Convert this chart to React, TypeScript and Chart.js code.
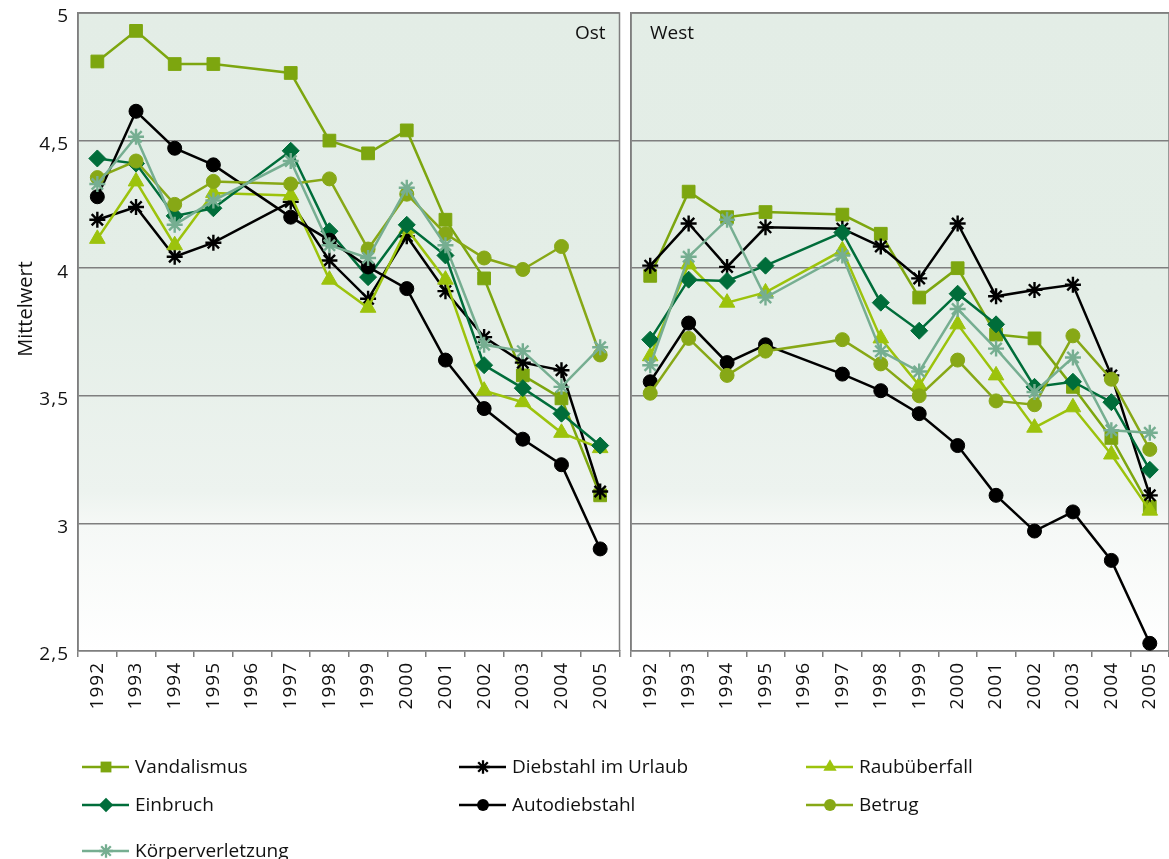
import React, { useEffect, useRef } from 'react';
import { Chart, registerables } from 'chart.js';

Chart.register(...registerables);

// ---------- data ----------
const years = ['1992', '1993', '1994', '1995', '1996', '1997', '1998', '1999', '2000', '2001', '2002', '2003', '2004', '2005'];
const yMin = 2.5;
const yMax = 5;
const yStep = 0.5;
const seriesNames = ['Vandalismus', 'Diebstahl im Urlaub', 'Raubüberfall', 'Einbruch', 'Autodiebstahl', 'Betrug', 'Körperverletzung'];
const panelNames = ['Ost', 'West'];
const yAxisTitle = 'Mittelwert';

// Ost
const ostVandalismus = [4.81, 4.93, 4.80, 4.80, null, 4.765, 4.50, 4.45, 4.54, 4.19, 3.96, 3.58, 3.49, 3.11];
const ostDiebstahl = [4.19, 4.24, 4.045, 4.10, null, 4.26, 4.03, 3.88, 4.125, 3.91, 3.73, 3.63, 3.60, 3.125];
const ostRaub = [4.115, 4.34, 4.09, 4.295, null, 4.285, 3.955, 3.845, 4.155, 3.955, 3.52, 3.475, 3.355, 3.295];
const ostEinbruch = [4.43, 4.41, 4.205, 4.235, null, 4.46, 4.145, 3.965, 4.17, 4.05, 3.62, 3.53, 3.43, 3.305];
const ostAuto = [4.28, 4.615, 4.47, 4.405, null, 4.20, 4.11, 4.005, 3.92, 3.64, 3.45, 3.33, 3.23, 2.90];
const ostBetrug = [4.355, 4.42, 4.25, 4.34, null, 4.33, 4.35, 4.075, 4.29, 4.135, 4.04, 3.995, 4.085, 3.66];
const ostKoerper = [4.33, 4.515, 4.17, 4.265, null, 4.42, 4.09, 4.04, 4.315, 4.09, 3.70, 3.675, 3.535, 3.69];

// West
const westVandalismus = [3.97, 4.30, 4.20, 4.22, null, 4.21, 4.135, 3.885, 4.00, 3.74, 3.725, 3.535, 3.335, 3.065];
const westDiebstahl = [4.01, 4.175, 4.005, 4.16, null, 4.155, 4.085, 3.96, 4.175, 3.89, 3.915, 3.935, 3.58, 3.11];
const westRaub = [3.655, 4.015, 3.865, 3.905, null, 4.07, 3.725, 3.54, 3.78, 3.58, 3.375, 3.455, 3.27, 3.05];
const westEinbruch = [3.72, 3.955, 3.95, 4.01, null, 4.14, 3.865, 3.755, 3.90, 3.78, 3.535, 3.555, 3.475, 3.21];
const westAuto = [3.555, 3.785, 3.63, 3.70, null, 3.585, 3.52, 3.43, 3.305, 3.11, 2.97, 3.045, 2.855, 2.53];
const westBetrug = [3.51, 3.725, 3.58, 3.675, null, 3.72, 3.625, 3.50, 3.64, 3.48, 3.465, 3.735, 3.565, 3.29];
const westKoerper = [3.62, 4.045, 4.19, 3.885, null, 4.05, 3.675, 3.595, 3.84, 3.685, 3.515, 3.65, 3.365, 3.355];

const ostSeries = [ostVandalismus, ostDiebstahl, ostRaub, ostEinbruch, ostAuto, ostBetrug, ostKoerper];
const westSeries = [westVandalismus, westDiebstahl, westRaub, westEinbruch, westAuto, westBetrug, westKoerper];

// ---------- styles ----------
const seriesColors = ['#7da60f', '#000000', '#9cc30c', '#006d3a', '#000000', '#87a816', '#76ae91'];
const pointStyles = ['rect', 'star', 'triangle', 'rectRot', 'circle', 'circle', 'star'];
const pointRadii = [9, 8, 9, 8.5, 7, 7, 8];
const FONT = "'Open Sans', 'DejaVu Sans', sans-serif";
const GRID = '#7f7f7f';

const W = 1169;
const H = 859;
const TOP = 13;
const BOTTOM = 651;
const OST_LEFT = 78;
const OST_RIGHT = 619.5;
const WEST_X = 630;
const PANEL_H = 730;

function drawMarker(ctx: CanvasRenderingContext2D, style: string, x: number, y: number, r: number, color: string) {
  ctx.save();
  ctx.fillStyle = color;
  ctx.strokeStyle = color;
  ctx.lineWidth = 2.3;
  ctx.beginPath();
  if (style === 'rect') {
    const s = Math.SQRT1_2 * r;
    ctx.rect(x - s, y - s, 2 * s, 2 * s);
    ctx.fill();
  } else if (style === 'circle') {
    ctx.arc(x, y, r, 0, Math.PI * 2);
    ctx.fill();
  } else if (style === 'rectRot') {
    ctx.moveTo(x, y - r);
    ctx.lineTo(x + r, y);
    ctx.lineTo(x, y + r);
    ctx.lineTo(x - r, y);
    ctx.closePath();
    ctx.fill();
  } else if (style === 'triangle') {
    for (let k = 0; k < 3; k++) {
      const a = (k * 2 * Math.PI) / 3;
      const px = x + Math.sin(a) * r;
      const py = y - Math.cos(a) * r;
      if (k === 0) ctx.moveTo(px, py);
      else ctx.lineTo(px, py);
    }
    ctx.closePath();
    ctx.fill();
  } else if (style === 'star') {
    for (let k = 0; k < 4; k++) {
      const a = (k * Math.PI) / 4;
      ctx.moveTo(x + Math.cos(a) * r, y + Math.sin(a) * r);
      ctx.lineTo(x - Math.cos(a) * r, y - Math.sin(a) * r);
    }
    ctx.stroke();
  }
  ctx.restore();
}

const spacingPlugin = {
  id: 'spacing',
  beforeDraw(chart: any) {
    (chart.ctx as any).letterSpacing = '1px';
  },
};

const backgroundPlugin = {
  id: 'panelBg',
  beforeDraw(chart: any) {
    const { ctx, chartArea } = chart;
    const { left, top, right, bottom } = chartArea;
    ctx.save();
    const g = ctx.createLinearGradient(0, top, 0, bottom);
    g.addColorStop(0, '#e3ede6');
    g.addColorStop(0.45, '#e4eee7');
    g.addColorStop(0.75, '#edf3ef');
    g.addColorStop(0.8, '#f5f8f6');
    g.addColorStop(1, '#ffffff');
    ctx.fillStyle = g;
    ctx.fillRect(left, top, right - left, bottom - top);
    ctx.restore();
  },
};

function framePlugin(panel: string) {
  return {
    id: 'frame' + panel,
    beforeDatasetsDraw(chart: any) {
      const { ctx, chartArea } = chart;
      const { left, top, right, bottom } = chartArea;
      ctx.save();
      ctx.strokeStyle = GRID;
      ctx.lineWidth = 1.5;
      ctx.beginPath();
      ctx.moveTo(left, bottom);
      ctx.lineTo(left, top);
      ctx.lineTo(right, top);
      ctx.lineTo(right, bottom);
      ctx.stroke();
      (ctx as any).letterSpacing = '0px';
      ctx.fillStyle = '#111111';
      ctx.font = `19px ${FONT}`;
      ctx.textBaseline = 'middle';
      if (panel === 'Ost') {
        ctx.textAlign = 'right';
        ctx.fillText(panel, right - 14, top + 21);
      } else {
        ctx.textAlign = 'left';
        ctx.fillText(panel, left + 19, top + 21);
      }
      ctx.restore();
    },
  };
}

const yTitlePlugin = {
  id: 'yTitle',
  afterDraw(chart: any) {
    const { ctx } = chart;
    ctx.save();
    (ctx as any).letterSpacing = '0px';
    ctx.translate(26, 309);
    ctx.rotate(-Math.PI / 2);
    ctx.font = `20px ${FONT}`;
    ctx.fillStyle = '#111111';
    ctx.textAlign = 'center';
    ctx.textBaseline = 'middle';
    ctx.fillText(yAxisTitle, 0, 0);
    ctx.restore();
  },
};

const legendPlugin = {
  id: 'customLegend',
  afterDraw(chart: any) {
    const { ctx } = chart;
    const colX = [82, 459, 806];
    const rowY = [767, 805, 851];
    ctx.save();
    (ctx as any).letterSpacing = '0px';
    ctx.font = `19px ${FONT}`;
    ctx.textAlign = 'left';
    ctx.textBaseline = 'middle';
    seriesNames.forEach((name, i) => {
      const x = colX[i % 3];
      const y = rowY[Math.floor(i / 3)];
      const color = seriesColors[i];
      ctx.strokeStyle = color;
      ctx.lineWidth = 2.5;
      ctx.beginPath();
      ctx.moveTo(x, y);
      ctx.lineTo(x + 47, y);
      ctx.stroke();
      drawMarker(ctx, pointStyles[i], x + 24, y, pointRadii[i] * 0.85, color);
      ctx.fillStyle = '#111111';
      ctx.fillText(name, x + 53, y + 1);
    });
    ctx.restore();
  },
};

function buildConfig(panel: string, values: (number | null)[][]): any {
  const isOst = panel === 'Ost';
  return {
    type: 'line',
    data: {
      labels: years,
      datasets: seriesNames.map((name, i) => ({
        label: name,
        data: values[i],
        borderColor: seriesColors[i],
        backgroundColor: seriesColors[i],
        pointBackgroundColor: seriesColors[i],
        pointBorderColor: seriesColors[i],
        pointStyle: pointStyles[i],
        pointRadius: pointRadii[i],
        pointBorderWidth: pointStyles[i] === 'star' ? 2.4 : 1,
        borderWidth: 2.5,
        spanGaps: true,
        tension: 0,
        fill: false,
        clip: false,
        order: seriesNames.length - i,
      })),
    },
    options: {
      responsive: false,
      animation: false,
      events: [],
      layout: {
        autoPadding: false,
        padding: isOst
          ? { top: TOP, right: W - OST_RIGHT, bottom: H - PANEL_H, left: 0 }
          : { top: TOP, right: 0, bottom: 0, left: 0 },
      },
      plugins: {
        legend: { display: false },
        tooltip: { enabled: false },
        title: { display: false },
      },
      scales: {
        x: {
          type: 'category',
          offset: true,
          grid: {
            display: true,
            drawOnChartArea: false,
            drawTicks: true,
            tickLength: 6,
            color: GRID,
            lineWidth: 1.5,
            offset: true,
          },
          border: { display: true, color: GRID, width: 1.5 },
          ticks: {
            minRotation: 90,
            maxRotation: 90,
            autoSkip: false,
            padding: 5,
            color: '#111111',
            font: { family: FONT, size: 19 },
          },
          afterFit: (s: any) => {
            s.height = PANEL_H - BOTTOM;
            s.paddingLeft = 0;
            s.paddingRight = 0;
          },
        },
        y: {
          min: yMin,
          max: yMax,
          ticks: {
            stepSize: yStep,
            display: isOst,
            padding: 9,
            labelOffset: 4,
            color: '#111111',
            font: { family: FONT, size: 19 },
            callback: (v: any) => String(v).replace('.', ','),
          },
          grid: { color: GRID, lineWidth: 1.5, drawTicks: false },
          border: { display: true, color: GRID, width: 1.5 },
          afterFit: (s: any) => {
            s.width = isOst ? OST_LEFT : 1;
            s.paddingTop = 0;
            s.paddingBottom = 0;
          },
        },
      },
    },
    plugins: isOst
      ? [spacingPlugin, backgroundPlugin, framePlugin(panel), yTitlePlugin, legendPlugin]
      : [spacingPlugin, backgroundPlugin, framePlugin(panel)],
  };
}

export default function App() {
  const ostRef = useRef<HTMLCanvasElement | null>(null);
  const westRef = useRef<HTMLCanvasElement | null>(null);

  useEffect(() => {
    document.body.style.margin = '0';
    document.body.style.background = '#ffffff';
    const charts: Chart[] = [];
    if (ostRef.current) charts.push(new Chart(ostRef.current, buildConfig(panelNames[0], ostSeries)));
    if (westRef.current) charts.push(new Chart(westRef.current, buildConfig(panelNames[1], westSeries)));
    return () => {
      charts.forEach((c) => c.destroy());
    };
  }, []);

  return (
    <div style={{ position: 'relative', width: W, height: H, background: '#ffffff', overflow: 'hidden' }}>
      <canvas ref={ostRef} width={W} height={H} style={{ position: 'absolute', left: 0, top: 0, width: W, height: H }} />
      <canvas
        ref={westRef}
        width={W - WEST_X}
        height={PANEL_H}
        style={{ position: 'absolute', left: WEST_X, top: 0, width: W - WEST_X, height: PANEL_H }}
      />
    </div>
  );
}
